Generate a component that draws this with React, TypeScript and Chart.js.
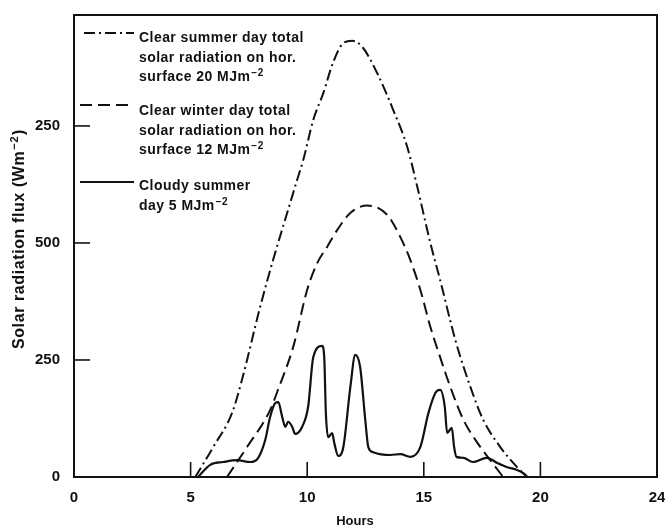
import { useEffect, useRef } from "react";
import { Chart, registerables } from "chart.js";

Chart.register(...registerables);

// ---- data (hours, W/m2) ----
const summerHours = [5.2, 5.97, 6.78, 7.2, 7.98, 8.54, 9.14, 9.57, 9.83, 10.26, 10.69, 11.12, 11.55, 11.93, 12.36, 13.0, 13.69, 14.29, 14.72, 15.28, 15.7, 16.35, 17.0, 17.55, 18.28, 19.0, 19.44];
const summerFlux = [0, 64, 137, 207, 363, 464, 564, 635, 677, 763, 820, 887, 927, 932, 919, 863, 784, 705, 620, 500, 421, 293, 192, 122, 64, 21, 0];

const winterHours = [6.56, 7.42, 8.41, 8.7, 9.4, 10.0, 10.43, 10.86, 11.29, 11.85, 12.57, 13.43, 13.99, 14.42, 14.85, 15.28, 15.7, 16.14, 16.7, 17.3, 17.85, 18.28, 18.4];
const winterFlux = [0, 64, 143, 180, 278, 400, 457, 492, 528, 564, 580, 560, 513, 464, 400, 321, 256, 192, 122, 73, 36, 8, 0];

const cloudyHours = [5.32, 5.84, 6.4, 7.0, 7.55, 7.9, 8.2, 8.41, 8.63, 8.76, 8.93, 9.06, 9.18, 9.36, 9.48, 9.78, 10.04, 10.26, 10.64, 10.73, 10.8, 10.9, 11.07, 11.16, 11.33, 11.55, 11.85, 12.06, 12.27, 12.49, 12.62, 12.83, 13.56, 14.0, 14.42, 14.85, 15.2, 15.5, 15.7, 15.9, 16.0, 16.2, 16.3, 16.4, 16.7, 17.1, 17.7, 18.15, 18.58, 19.0, 19.27, 19.44];
const cloudyFlux = [0, 26, 32, 36, 32, 41, 79, 128, 158, 160, 128, 107, 118, 107, 92, 107, 150, 256, 280, 256, 137, 85, 94, 73, 45, 64, 192, 261, 235, 122, 64, 53, 47, 49, 43, 64, 137, 180, 186, 150, 94, 105, 64, 43, 41, 32, 41, 30, 21, 15, 8, 0];

const xTickValues = [0, 5, 10, 15, 20, 25];
const xTickLabels = ["0", "5", "10", "15", "20", "24"];
const yTickValues = [0, 250, 500, 750];
const yTickLabels = ["0", "250", "500", "250"];

const legendItems = [
  { lines: ["Clear summer day total", "solar radiation on hor.", "surface 20 MJm"], sup: "−2", dash: [11, 4, 2, 4] },
  { lines: ["Clear winter day total", "solar radiation on hor.", "surface 12 MJm"], sup: "−2", dash: [12, 6] },
  { lines: ["Cloudy summer", "day 5 MJm"], sup: "−2", dash: [] as number[] },
];

const INK = "#111";
const FONT = '"Liberation Sans", Arial, sans-serif';

const toPts = (xs: number[], ys: number[]) => xs.map((x, i) => ({ x, y: ys[i] }));

const decorPlugin = {
  id: "decor",
  afterDraw(chart: any) {
    const ctx = chart.ctx as CanvasRenderingContext2D;
    const { left, right, top, bottom } = chart.chartArea;
    const xs = chart.scales.x;
    const ys = chart.scales.y;
    ctx.save();
    ctx.strokeStyle = INK;
    ctx.fillStyle = INK;
    // frame
    ctx.lineWidth = 2;
    ctx.setLineDash([]);
    ctx.strokeRect(left, top, right - left, bottom - top);
    // inward ticks
    ctx.lineWidth = 1.6;
    xTickValues.slice(1, -1).forEach((v) => {
      const px = xs.getPixelForValue(v);
      ctx.beginPath();
      ctx.moveTo(px, bottom);
      ctx.lineTo(px, bottom - 15);
      ctx.stroke();
    });
    yTickValues.slice(1).forEach((v) => {
      const py = ys.getPixelForValue(v);
      ctx.beginPath();
      ctx.moveTo(left, py);
      ctx.lineTo(left + 16, py);
      ctx.stroke();
    });

    // legend
    const lineTops = [33, 105, 182];
    const textBase = [42, 115, 190];
    const lh = 19.5;
    (ctx as any).letterSpacing = "0.45px";
    legendItems.forEach((it, i) => {
      ctx.lineWidth = 2;
      ctx.setLineDash(it.dash);
      ctx.beginPath();
      ctx.moveTo(i === 0 ? 84 : 80, lineTops[i]);
      ctx.lineTo(134, lineTops[i]);
      ctx.stroke();
      ctx.setLineDash([]);
      ctx.textAlign = "left";
      ctx.textBaseline = "alphabetic";
      it.lines.forEach((t, j) => {
        const y = textBase[i] + j * lh;
        ctx.font = `bold 14px ${FONT}`;
        ctx.fillText(t, 139, y);
        if (j === it.lines.length - 1) {
          const w = ctx.measureText(t).width;
          ctx.font = `bold 10px ${FONT}`;
          ctx.fillText(it.sup, 139 + w + 1, y - 5);
        }
      });
    });

    // y title
    ctx.save();
    ctx.translate(24, 239);
    ctx.rotate(-Math.PI / 2);
    (ctx as any).letterSpacing = "0.6px";
    const main = "Solar radiation flux (Wm";
    const sup = "−2";
    const close = ")";
    ctx.font = `bold 16px ${FONT}`;
    const wMain = ctx.measureText(main).width;
    const wClose = ctx.measureText(close).width;
    ctx.font = `bold 11px ${FONT}`;
    const wSup = ctx.measureText(sup).width;
    const total = wMain + wSup + wClose + 2;
    const x0 = -total / 2;
    ctx.textBaseline = "alphabetic";
    ctx.textAlign = "left";
    ctx.font = `bold 16px ${FONT}`;
    ctx.fillText(main, x0, 0);
    ctx.font = `bold 11px ${FONT}`;
    ctx.fillText(sup, x0 + wMain + 1, -6);
    ctx.font = `bold 16px ${FONT}`;
    ctx.fillText(close, x0 + wMain + wSup + 2, 0);
    ctx.restore();

    // x title
    (ctx as any).letterSpacing = "0px";
    ctx.font = `bold 13px ${FONT}`;
    ctx.textAlign = "center";
    ctx.textBaseline = "alphabetic";
    ctx.fillText("Hours", 355, 525);
    ctx.restore();
  },
};

export default function App() {
  const ref = useRef<HTMLCanvasElement | null>(null);
  useEffect(() => {
    if (!ref.current) return;
    const common = {
      pointRadius: 0,
      borderColor: INK,
      borderWidth: 2,
      fill: false,
      cubicInterpolationMode: "monotone" as const,
    };
    const chart = new Chart(ref.current, {
      type: "line",
      data: {
        datasets: [
          { label: "Clear summer day", data: toPts(summerHours, summerFlux), borderDash: [11, 4, 2, 4], ...common },
          { label: "Clear winter day", data: toPts(winterHours, winterFlux), borderDash: [12, 6], ...common },
          { label: "Cloudy summer day", data: toPts(cloudyHours, cloudyFlux), ...common, borderWidth: 2.2 },
        ],
      },
      options: {
        animation: false,
        responsive: true,
        maintainAspectRatio: false,
        layout: { padding: { left: 0, top: 15, right: 8, bottom: 0 } },
        plugins: { legend: { display: false }, tooltip: { enabled: false }, title: { display: false } },
        scales: {
          x: {
            type: "linear",
            min: 0,
            max: 25,
            afterFit: (s: any) => { s.height = 51; s.paddingLeft = 0; s.paddingRight = 0; },
            afterBuildTicks: (s: any) => { s.ticks = xTickValues.map((v) => ({ value: v })); },
            grid: { display: false, drawTicks: false },
            border: { display: false },
            ticks: {
              color: INK,
              padding: 12,
              maxRotation: 0,
              autoSkip: false,
              font: { family: FONT, size: 15, weight: "bold" },
              callback: (v: any) => xTickLabels[xTickValues.indexOf(Number(v))] ?? "",
            },
          },
          y: {
            type: "linear",
            min: 0,
            max: 987,
            afterFit: (s: any) => { s.width = 74; s.paddingTop = 0; s.paddingBottom = 0; },
            afterBuildTicks: (s: any) => { s.ticks = yTickValues.map((v) => ({ value: v })); },
            grid: { display: false, drawTicks: false },
            border: { display: false },
            ticks: {
              color: INK,
              padding: 14,
              autoSkip: false,
              font: { family: FONT, size: 15, weight: "bold" },
              callback: (v: any) => yTickLabels[yTickValues.indexOf(Number(v))] ?? "",
            },
          },
        },
      },
      plugins: [decorPlugin],
    });
    return () => chart.destroy();
  }, []);
  return (
    <div style={{ position: "fixed", left: 0, top: 0, width: 665, height: 528, background: "#fff" }}>
      <canvas ref={ref} />
    </div>
  );
}
